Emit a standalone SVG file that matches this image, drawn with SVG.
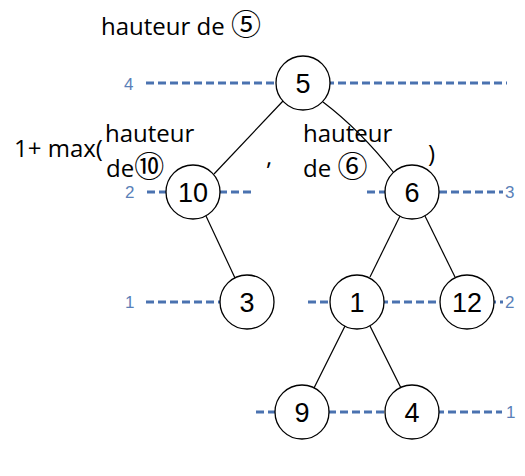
<svg xmlns="http://www.w3.org/2000/svg" width="525" height="476" viewBox="0 0 525 476">
<style>
.lvl{stroke:#4a72b0;stroke-width:3;stroke-dasharray:8 4;fill:none}
.lbl{fill:#5a7fb8;font-family:"Liberation Sans",Arial,sans-serif;font-size:17px;dominant-baseline:central}
.edge{stroke:#000;stroke-width:1.2;fill:none}
.node circle{fill:#fff;stroke:#000;stroke-width:1.3}
.node text{font-family:"Liberation Sans",Arial,sans-serif;font-size:27px;text-anchor:middle;dominant-baseline:central;fill:#000}
.ann{font-family:"Open Sans","Liberation Sans",sans-serif;font-size:24px;fill:#000}
.circ{font-family:"Noto Sans CJK JP","Noto Sans CJK SC",sans-serif;font-size:30px;fill:#000}
</style>
<rect width="525" height="476" fill="#fff"/>
<g id="levels">
<line class="lvl" x1="146" y1="83" x2="507" y2="83"/>
<text class="lbl" x="124" y="84">4</text>
<line class="lvl" x1="147" y1="192" x2="255" y2="192"/>
<text class="lbl" x="125" y="192">2</text>
<line class="lvl" x1="367" y1="192" x2="503" y2="192"/>
<text class="lbl" x="505" y="192">3</text>
<line class="lvl" x1="146" y1="302" x2="230" y2="302"/>
<text class="lbl" x="125" y="302">1</text>
<line class="lvl" x1="308" y1="302" x2="503" y2="302"/>
<text class="lbl" x="505" y="302">2</text>
<line class="lvl" x1="256" y1="412" x2="502" y2="412"/>
<text class="lbl" x="506" y="412">1</text>
</g>
<g id="connectors">
<line class="edge" x1="283" y1="101" x2="214" y2="174"/>
<path class="edge" d="M323 102 Q 360 130 394 173"/>
<line class="edge" x1="206" y1="216" x2="235" y2="278"/>
<line class="edge" x1="400" y1="216" x2="370" y2="277"/>
<line class="edge" x1="425" y1="216" x2="455" y2="277"/>
<line class="edge" x1="345" y1="326" x2="314" y2="388"/>
<line class="edge" x1="370" y1="326" x2="401" y2="388"/>
</g>
<g id="n5" class="node"><circle cx="303" cy="83" r="27"/><text x="303" y="84">5</text></g>
<g id="n10" class="node"><circle cx="193" cy="192" r="27"/><text x="193" y="193">10</text></g>
<g id="n6" class="node"><circle cx="412" cy="192" r="27"/><text x="412" y="193">6</text></g>
<g id="n3" class="node"><circle cx="247" cy="302" r="27"/><text x="247" y="303">3</text></g>
<g id="n1" class="node"><circle cx="357" cy="302" r="27"/><text x="357" y="303">1</text></g>
<g id="n12" class="node"><circle cx="467" cy="302" r="27"/><text x="467" y="303">12</text></g>
<g id="n9" class="node"><circle cx="302" cy="412" r="27"/><text x="302" y="413">9</text></g>
<g id="n4" class="node"><circle cx="412" cy="412" r="27"/><text x="412" y="413">4</text></g>
<g id="annotations">
<text class="ann" x="101" y="35">hauteur de <tspan class="circ">⑤</tspan></text>
<text class="ann" x="14" y="157">1+ max(</text>
<text class="ann" x="105" y="142">hauteur</text>
<text class="ann" x="106" y="177">de<tspan class="circ">⑩</tspan></text>
<text class="ann" x="266" y="165">,</text>
<text class="ann" x="303" y="142">hauteur</text>
<text class="ann" x="303" y="177">de <tspan class="circ">⑥</tspan></text>
<text class="ann" x="428" y="162">)</text>
</g>
</svg>
